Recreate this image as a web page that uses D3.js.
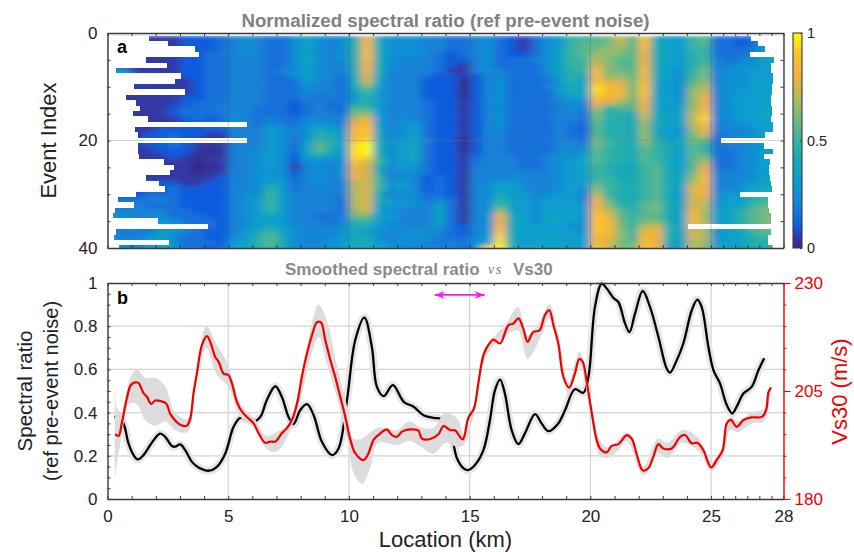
<!DOCTYPE html>
<html>
<head>
<meta charset="utf-8">
<script src="https://cdn.jsdelivr.net/npm/d3@7"></script>
<style>
  body { margin: 0; background: #fff; }
  text { font-family: "Liberation Sans", Arial, sans-serif; }
</style>
</head>
<body>
<div id="chart"></div>
<script>
//colormap stops
const cmapStops = [0, 0.05, 0.1, 0.2, 0.3, 0.4, 0.5, 0.6, 0.7, 0.8, 0.9, 1];
const cmapColors = ["#352a87", "#3037a5", "#0f5cdd", "#1481d6", "#0a9ccf", "#12a8b8", "#38b3a0", "#74ba7c", "#b6b95c", "#eeb23f", "#fdc02d", "#f9fb0e"];

//heat map: one string per event, one letter per 0.5 km, a=0 b=0.05 ... u=1
const levels = "abcdefghijklmnopqrstu";
const heatRows = [
  "bbbbbbcccd efeddfhfef iqifffeedd efdcbdfgkk lmplsihgkl ddcdhh",
  "bbbbbbcccd efeddfhfef jrifffeedd efdcbdfgkl lmolrihgkl ddcdhh",
  "bbbbbbcccd efeddfhfef jrifffeedd efdcbdfhkl mnnlrihgkk ddddhh",
  "bbbbbbccdd efeddfhfef jrifffedcd efdccdfhkl nnmlqihgjk dddehh",
  "bbbbbbccdd eeeddfhfef jrifeeedcc efdddefhkk omllqihgjk edefhh",
  "bbbbbbccdd eeeddfhfee jqifeeedcb efddddfhkk pnllqihgjl eeffgh",
  "gfbbbbccdd eeedefhfee jqifeeedbb efedddfhjk rmmlrigfkm effggh",
  "ggccbbccdd eeeddfgfed ipieeedccb cefdddehji rnnlrigfkm effggh",
  "bbccbbbcdd eeedddgfed ipheeeccca cefddddgjh rppmrigfln effggh",
  "bbbbbbbcdd eeedddfeed imheeeccca cefdddegih trqmshgfmo effggh",
  "bbbbbbbcdd eeedddfeed hkgeeeccca cefddddgih trrmshgfnp efgggh",
  "bbbbbbccdd eeedddeded hjgeeeccca cefddddfgg sqqmrhgfnq efgggh",
  "bbbbbbcddd eeeddcdedd hjgeeedccb cefddddefe qpnlqhgfnq efgghh",
  "bbbbbcddde eedddcdedd lkgeeedccb cefddddefe ojllqhghnr efgghh",
  "bbbbbcdddd fedddcdeed mngeeedccb cefddddeed mjjipiggos efgghh",
  "bbbbbbcdcd fededdeeee oqgefedccb cefddddeed mjjioihhot efgghh",
  "bbbbbbccdc fedfedfgfe qrgefgdccb cefddddedd ljjinihhor eefggh",
  "bbbbcccccc eeegfefihf rshefgdccb cefddddedc ljjinhgfnq eeefgh",
  "bbbccdccbb eeegfefjig rshefhdccb ceeddddedd ljjiniggmp deefgh",
  "bbbccdcbbb eeegfdgkjg stifghecca ceeddddeed mkjinjhhml deefgh",
  "bbbccdcbbb eeegfdgljg tuifghdcca ceeddddeee mkjimjihlk deeffh",
  "bbbbcccbab eefgfdhlig tuifhidccb ceeddddfff ljjilkihlk ddefgh",
  "bbbbbcbabb eefgfcghgf ttjfgidccb deeeddeffg lkjilkiglm ddefgg",
  "bbbbbbbabb eefgfcffef spkfghdccb deeeddefgh ljjilkiglo ddefgh",
  "bbbbbbbaab eefgfbefef qpifgfdccb eeeeddefgh kjiikliglq ddefgh",
  "bbbbbbbabb eefffcefef qpieffdccb eeeeeeefgh kjiiklihmq eeefgh",
  "bbbbbbbbbc eefgfdefef qpkefecdcb eeefeeefgh kkiiklihnr eeefhi",
  "bbccccbbcc eefhgdefee opkfgecdcb efggfeefgg lkjiklihor eefghi",
  "bbcccdcccc eefjgdeeee opkfgecdcb efhgfeefgf nkjiklihqq eefgii",
  "cccdddcccc effkgeeeee opieffddcb efiggefgge okjikligpq fggjjj",
  "dddeedcccc efgkgeeeed opigefdedb efjhgfggge qljikligpp fggjkl",
  "eeedddcccc efgkgeeeed opgggfehdb efkhgfgggf qnjjlmihpo fhgklm",
  "deeeeddccc efgkgeeeed npgfeeehdb efnhgfgggg roljlmihqo ghjlmm",
  "ffeeedddcc efghgeedde mmggeeehdb efqigfhhhf sqlkllihrn ghjlmn",
  "gfeegfdddc efghgeeede kkgfeeehdb efqihfhhgf srmkmmigro ghjlmn",
  "efeeggeddc efgigfeeef iigfefegdc efrighggff srmkopjhro ghjlmn",
  "ededhfedcc egikhfeeef ihfefffedc efshhggggf srnkqqjhpn fhhkll",
  "feeghfddcc fgjlifeffg iifefffedd fgtigghhgg rqnkrqjhpo fhhjkk",
  "fefgifdddc ghjlifeefg iigfffeded fgtighhhgg rpmlrqihon ghhjjj",
  "eedghfddcd ghjkifeffg iihfefefed ftuihihhgg spmmsqihon ghhijj"
];

//where each event's record starts and stops along the line (km)
const rowStart = [1.73, 2.5, 3.63, 3.8, 1.6, 2.46, 0.36, 3.04, 2.8, 1.09, 3.23, 0.76, 1.17, 1.34, 1.05, 1.67, 5.77, 1.12, 1.28, 5.77, 1.27, 1.27, 1.31, 2.35, 2.76, 2.6, 1.6, 2.14, 2.39, 1.17, 0.44, 1.1, 0.29, 0.21, 2.09, 4.17, 0.36, 0.28, 2.53, 0.46];
const rowEnd = [26.66, 26.93, 27.25, 26.62, 27.61, 27.5, 27.47, 27.55, 27.55, 27.53, 27.53, 27.5, 27.5, 27.53, 27.53, 27.47, 27.55, 27.55, 27.24, 25.4, 27.2, 27.55, 27.2, 27.44, 27.41, 27.41, 27.44, 27.47, 27.53, 26.2, 27.36, 27.36, 27.41, 27.47, 27.47, 24.06, 27.47, 27.36, 27.36, 27.5];

//panel b, spectral ratio [km, ratio]
const ratioLine = [[0.28, 0.38], [0.46, 0.375], [0.66, 0.35], [0.87, 0.257], [1.08, 0.203], [1.26, 0.183], [1.49, 0.203], [1.77, 0.25], [2.18, 0.303], [2.39, 0.288], [2.67, 0.245], [2.8, 0.242], [3.01, 0.253], [3.22, 0.226], [3.49, 0.173], [3.77, 0.146], [4.21, 0.131], [4.53, 0.149], [4.88, 0.211], [5.22, 0.334], [5.5, 0.376], [5.77, 0.365], [6.05, 0.357], [6.33, 0.38], [6.6, 0.458], [6.95, 0.522], [7.22, 0.473], [7.5, 0.38], [7.71, 0.347], [7.98, 0.411], [8.26, 0.439], [8.54, 0.388], [8.88, 0.265], [9.3, 0.203], [9.57, 0.234], [9.92, 0.458], [10.26, 0.735], [10.64, 0.84], [10.95, 0.704], [11.16, 0.519], [11.44, 0.476], [11.82, 0.527], [12.27, 0.45], [12.68, 0.427], [13.09, 0.388], [13.5, 0.376], [13.9, 0.368], [14.2, 0.319], [14.47, 0.19], [14.75, 0.142], [14.94, 0.134], [15.22, 0.157], [15.57, 0.226], [15.84, 0.365], [16.05, 0.504], [16.26, 0.553], [16.46, 0.488], [16.74, 0.319], [17.02, 0.254], [17.29, 0.304], [17.71, 0.393], [17.98, 0.35], [18.26, 0.314], [18.67, 0.35], [18.95, 0.411], [19.36, 0.508], [19.71, 0.492], [19.92, 0.565], [20.19, 0.889], [20.47, 0.997], [20.68, 0.974], [20.95, 0.932], [21.16, 0.912], [21.44, 0.812], [21.62, 0.773], [21.85, 0.858], [22.17, 0.963], [22.47, 0.889], [22.82, 0.75], [23.16, 0.604], [23.3, 0.585], [23.58, 0.643], [23.85, 0.72], [24.2, 0.874], [24.43, 0.923], [24.61, 0.889], [24.89, 0.704], [25.1, 0.596], [25.37, 0.535], [25.65, 0.435], [25.88, 0.396], [26.06, 0.427], [26.34, 0.488], [26.68, 0.519], [26.96, 0.596], [27.2, 0.652]];

//panel b, Vs30 [km, m/s]
const vs30Line = [[0.32, 195], [0.46, 194.6], [0.59, 197.5], [0.8, 203.3], [0.97, 206.4], [1.15, 207], [1.28, 206.9], [1.49, 204.5], [1.63, 203.7], [1.8, 202], [1.98, 202.8], [2.18, 202.7], [2.43, 202.1], [2.6, 199.7], [2.85, 197.9], [3.08, 197], [3.29, 197], [3.43, 198.7], [3.56, 204.4], [3.7, 209], [3.91, 215.6], [4.12, 217.7], [4.28, 216], [4.46, 212.9], [4.6, 211.8], [4.81, 209], [5.01, 208.7], [5.15, 206.8], [5.36, 202.5], [5.57, 200.2], [5.77, 199], [6.05, 197.5], [6.26, 195.2], [6.53, 193], [6.74, 193.3], [6.95, 193.3], [7.22, 195.2], [7.43, 196.4], [7.64, 198.3], [7.85, 202.1], [8.05, 208.3], [8.26, 213.7], [8.47, 217.9], [8.67, 220.9], [8.84, 220.9], [9.02, 216.8], [9.23, 212.2], [9.43, 208.3], [9.64, 203.7], [9.85, 199], [10.06, 193.7], [10.26, 190.6], [10.6, 189], [10.81, 190.6], [11.02, 193.7], [11.3, 195.2], [11.57, 196.1], [11.78, 194.8], [11.99, 194.4], [12.2, 195.6], [12.54, 196.1], [12.88, 195.8], [13.02, 194], [13.37, 193.9], [13.71, 195], [13.92, 196.9], [14.2, 195.9], [14.39, 195.9], [14.71, 193.8], [14.94, 198.7], [15.18, 201], [15.36, 206.8], [15.57, 213.3], [15.77, 215.6], [15.98, 216.9], [16.26, 216], [16.6, 220.2], [16.81, 220.6], [17.02, 221.8], [17.22, 219.5], [17.4, 216.4], [17.64, 218.7], [17.89, 219], [18.12, 222.6], [18.3, 223.7], [18.47, 220.2], [18.67, 216], [18.88, 208.3], [19.12, 205.8], [19.36, 209], [19.54, 212.4], [19.68, 211.8], [19.85, 207.1], [20.06, 199.8], [20.26, 193.7], [20.4, 191.7], [20.68, 190.8], [20.88, 192.3], [21.16, 192.7], [21.51, 194.8], [21.71, 194], [21.95, 189.8], [22.17, 186.6], [22.4, 187.1], [22.61, 189.8], [22.82, 192.7], [23.02, 191.7], [23.37, 191.7], [23.72, 194.4], [23.92, 194.8], [24.2, 192.9], [24.43, 193], [24.68, 191.3], [25, 187.3], [25.23, 189], [25.48, 191.3], [25.65, 197.5], [25.82, 198.3], [26.06, 196.7], [26.34, 198.3], [26.68, 198.9], [27.1, 199], [27.28, 200.6], [27.38, 204.8], [27.49, 205.8]];

//panel b, grey band round the Vs30 line [km, low, high] in m/s
const vs30Band = [[0.3, 184.5, 206], [0.4, 188.5, 201], [0.6, 195, 200], [0.9, 202, 207.5], [1.2, 202, 210], [1.6, 198, 208], [2, 197, 208], [2.4, 198, 206], [2.8, 196, 200], [3.3, 195.5, 198.5], [3.7, 207.5, 210.5], [4.1, 215, 220], [4.5, 209, 216], [5, 206, 211], [5.5, 199, 202], [6.1, 196.5, 198.5], [6.6, 191.5, 194.5], [7, 191, 195.5], [7.5, 195, 197.5], [8, 203.5, 207.5], [8.5, 214.5, 221.5], [8.75, 217.5, 225], [9.1, 211, 221], [9.5, 203.5, 211], [9.9, 194.5, 202], [10.2, 186, 194], [10.55, 183.5, 194], [10.9, 187.5, 195.5], [11.2, 193, 196.5], [12, 192.5, 196], [12.5, 193.5, 198], [13, 192, 196.5], [13.5, 190.5, 196.5], [14, 193, 200], [14.5, 192, 198.5], [14.75, 192.5, 195], [15.2, 200, 202], [15.6, 212, 214.5], [16, 215.5, 217.5], [16.5, 218, 220.5], [17, 219, 224.5], [17.4, 212.5, 218], [17.9, 217, 221], [18.3, 222, 225], [18.7, 214.5, 217.5], [19.1, 204, 207], [19.55, 211, 214], [20, 200, 203.5], [20.4, 190, 193.5], [20.7, 189.5, 192], [21.2, 191.5, 194], [21.5, 193.5, 195.5], [22.2, 185.5, 187.5], [22.8, 190.5, 194], [23.2, 189.5, 193], [23.8, 193, 196], [24.5, 191, 194], [25, 186.5, 188.5], [25.5, 190, 192.5], [25.8, 196, 199], [26.1, 195.5, 198], [26.7, 197.5, 200], [27.2, 198, 201], [27.45, 204, 208]];

//axis ticks and labels
const kmTicks = [0, 1, 2, 3, 4, 5, 6, 7, 8, 9, 10, 11, 12, 13, 14, 15, 16, 17, 18, 19, 20, 21, 22, 23, 24, 25, 25.5, 26, 26.5, 27, 27.5, 28];
const kmLabels = [0, 5, 10, 15, 20, 25, 28];
const kmGrid = [5, 10, 15, 20, 25];
const eventTicks = [0, 5, 10, 15, 20, 25, 30, 35, 40];
const eventLabels = [0, 20, 40];
const ratioTicks = [0, 0.05, 0.1, 0.15, 0.2, 0.25, 0.3, 0.35, 0.4, 0.45, 0.5, 0.55, 0.6, 0.65, 0.7, 0.75, 0.8, 0.85, 0.9, 0.95, 1];
const ratioLabels = [0, 0.2, 0.4, 0.6, 0.8, 1];
const vs30Ticks = [180, 185, 190, 195, 200, 205, 210, 215, 220, 225, 230];
const vs30Labels = [180, 205, 230];
const cbarLabels = [0, 0.5, 1];

const width = 854;
const height = 552;
const plotLeft = 107.5;
const plotRight = 783.5;
const axisColor = "#3a3a3a";

const svg = d3
  .select("#chart")
  .append("svg")
  .attr("width", width)
  .attr("height", height)
  .style("display", "block");

const xScale = d3.scaleLinear().domain([0, 28]).range([plotLeft, plotRight]);
const yEvent = d3.scaleLinear().domain([0, 40]).range([33, 248]);
const yRatio = d3.scaleLinear().domain([0, 1]).range([499, 283]);
const yVs30 = d3.scaleLinear().domain([180, 230]).range([499, 283]);
const cbarScale = d3.scaleLinear().domain([0, 1]).range([248, 33]);
const parula = d3.scaleLinear().domain(cmapStops).range(cmapColors).interpolate(d3.interpolateRgb);

const defs = svg.append("defs");
defs
  .append("clipPath")
  .attr("id", "clipA")
  .append("rect")
  .attr("x", plotLeft)
  .attr("y", yEvent(0))
  .attr("width", plotRight - plotLeft)
  .attr("height", yEvent(40) - yEvent(0));
const blur = defs
  .append("filter")
  .attr("id", "smear")
  .attr("filterUnits", "userSpaceOnUse")
  .attr("x", plotLeft - 20)
  .attr("y", 13)
  .attr("width", plotRight - plotLeft + 40)
  .attr("height", 255);
blur
  .append("feGaussianBlur")
  .attr("stdDeviation", "4.5 2.2")
  .attr("edgeMode", "duplicate");

/**************************************

        PANEL A, HEAT MAP

**************************************/

const cells = [];
heatRows.forEach((row, r) => {
  const letters = row.replace(/ /g, "");
  for (let c = 0; c < letters.length; c++) {
    cells.push({ event: r + 1, km: c * 0.5, val: levels.indexOf(letters[c]) / 20 });
  }
});

const panelA = svg.append("g").attr("clip-path", "url(#clipA)");
panelA
  .append("g")
  .attr("filter", "url(#smear)")
  .selectAll("rect")
  .data(cells)
  .enter()
  .append("rect")
  .attr("x", d => xScale(d.km))
  .attr("y", d => yEvent(d.event - 0.5))
  .attr("width", xScale(0.5) - xScale(0) + 0.5)
  .attr("height", yEvent(1) - yEvent(0) + 0.5)
  .attr("fill", d => parula(d.val));

//white where an event has no record
panelA
  .append("rect")
  .attr("x", plotLeft)
  .attr("y", yEvent(0))
  .attr("width", plotRight - plotLeft)
  .attr("height", yEvent(0.5) - yEvent(0))
  .attr("fill", "#fff");
panelA
  .selectAll("rect.gapLeft")
  .data(rowStart)
  .enter()
  .append("rect")
  .attr("class", "gapLeft")
  .attr("x", plotLeft)
  .attr("y", (d, i) => yEvent(i + 0.5))
  .attr("width", d => xScale(d) - plotLeft)
  .attr("height", yEvent(1) - yEvent(0))
  .attr("shape-rendering", "crispEdges")
  .attr("fill", "#fff");
panelA
  .selectAll("rect.gapRight")
  .data(rowEnd)
  .enter()
  .append("rect")
  .attr("class", "gapRight")
  .attr("x", d => xScale(d))
  .attr("y", (d, i) => yEvent(i + 0.5))
  .attr("width", d => plotRight - xScale(d))
  .attr("height", yEvent(1) - yEvent(0))
  .attr("shape-rendering", "crispEdges")
  .attr("fill", "#fff");

//faint grid on top of the map
panelA
  .selectAll("line.gridX")
  .data(kmGrid)
  .enter()
  .append("line")
  .attr("x1", d => xScale(d))
  .attr("x2", d => xScale(d))
  .attr("y1", yEvent(0))
  .attr("y2", yEvent(40))
  .attr("stroke", "#555")
  .attr("stroke-opacity", 0.3);
panelA
  .append("line")
  .attr("x1", plotLeft)
  .attr("x2", plotRight)
  .attr("y1", yEvent(20))
  .attr("y2", yEvent(20))
  .attr("stroke", "#777")
  .attr("stroke-opacity", 0.3)
  .attr("stroke-width", 1.2);

/**************************************

        PANEL B, LINES

**************************************/

const panelB = svg.append("g");

panelB
  .selectAll("line.gridX")
  .data(kmGrid)
  .enter()
  .append("line")
  .attr("x1", d => xScale(d))
  .attr("x2", d => xScale(d))
  .attr("y1", yRatio(0))
  .attr("y2", yRatio(1))
  .attr("stroke", "#d2d2d2")
  .attr("stroke-width", 1.2);
panelB
  .selectAll("line.gridY")
  .data(ratioLabels.slice(1, -1))
  .enter()
  .append("line")
  .attr("x1", plotLeft)
  .attr("x2", plotRight)
  .attr("y1", d => yRatio(d))
  .attr("y2", d => yRatio(d))
  .attr("stroke", "#d2d2d2")
  .attr("stroke-width", 1.2);

const ratioPath = d3
  .line()
  .x(d => xScale(d[0]))
  .y(d => yRatio(d[1]))
  .curve(d3.curveCatmullRom);

const vs30Path = d3
  .line()
  .x(d => xScale(d[0]))
  .y(d => yVs30(d[1]))
  .curve(d3.curveCatmullRom);

const vs30Area = d3
  .area()
  .x(d => xScale(d[0]))
  .y0(d => yVs30(d[1]))
  .y1(d => yVs30(d[2]))
  .curve(d3.curveCatmullRom);

panelB
  .append("path")
  .attr("d", ratioPath(ratioLine))
  .attr("fill", "none")
  .attr("stroke", "#e6e6e6")
  .attr("stroke-width", 8);
panelB
  .append("path")
  .attr("d", ratioPath(ratioLine))
  .attr("fill", "none")
  .attr("stroke", "#000")
  .attr("stroke-width", 2.3);
panelB
  .append("path")
  .attr("d", vs30Area(vs30Band))
  .attr("fill", "#dcdcdc");
panelB
  .append("path")
  .attr("d", vs30Path(vs30Line))
  .attr("fill", "none")
  .attr("stroke", "#f00000")
  .attr("stroke-width", 2.2)
  .attr("stroke-linejoin", "round");

//arrow over the marked stretch of the line
const arrowRange = [13.55, 15.62];
const arrowY = yRatio(0.945);
panelB
  .append("line")
  .attr("x1", xScale(arrowRange[0]))
  .attr("x2", xScale(arrowRange[1]))
  .attr("y1", arrowY)
  .attr("y2", arrowY)
  .attr("stroke", "#f51fe6")
  .attr("stroke-width", 1.6);
panelB
  .selectAll("path.head")
  .data([
    [arrowRange[0], 1],
    [arrowRange[1], -1]
  ])
  .enter()
  .append("path")
  .attr("class", "head")
  .attr("d", d => {
    const x = xScale(d[0]);
    return "M" + x + "," + arrowY + "L" + (x + d[1] * 10) + "," + (arrowY - 4) + "L" + (x + d[1] * 7) + "," + arrowY + "L" + (x + d[1] * 10) + "," + (arrowY + 4) + "Z";
  })
  .attr("fill", "#f51fe6");

/**************************************

        AXES

**************************************/

function styleAxis(g, color, size) {
  g.selectAll("path").attr("stroke", color).attr("stroke-width", 1.4);
  g.selectAll("line").attr("stroke", color).attr("stroke-width", 1);
  g.selectAll("text").attr("fill", color === axisColor ? "#222" : color).style("font-size", size + "px");
}

function kmAxis(y, labelled) {
  const axis = d3
    .axisBottom(xScale)
    .tickValues(kmTicks)
    .tickSizeInner(-3)
    .tickSizeOuter(0)
    .tickPadding(11)
    .tickFormat(d => (labelled && kmLabels.includes(d) ? d : ""));
  svg
    .append("g")
    .attr("transform", "translate(0," + y + ")")
    .call(axis)
    .call(styleAxis, axisColor, 17);
}

function topAxis(y) {
  const axis = d3.axisTop(xScale).tickValues(kmTicks).tickSizeInner(-3).tickSizeOuter(0).tickFormat("");
  svg
    .append("g")
    .attr("transform", "translate(0," + y + ")")
    .call(axis)
    .call(styleAxis, axisColor, 17);
}

kmAxis(yEvent(40), false);
topAxis(yEvent(0));
kmAxis(yRatio(0), true);
topAxis(yRatio(1));

//panel a, event axis left and right
svg
  .append("g")
  .attr("transform", "translate(" + plotLeft + ",0)")
  .call(
    d3
      .axisLeft(yEvent)
      .tickValues(eventTicks)
      .tickSizeInner(-3)
      .tickSizeOuter(0)
      .tickPadding(10)
      .tickFormat(d => (eventLabels.includes(d) ? d : ""))
  )
  .call(styleAxis, axisColor, 17);
svg
  .append("g")
  .attr("transform", "translate(" + plotRight + ",0)")
  .call(d3.axisRight(yEvent).tickValues(eventTicks).tickSizeInner(-3).tickSizeOuter(0).tickFormat(""))
  .call(styleAxis, axisColor, 17);

//panel b, ratio axis left
svg
  .append("g")
  .attr("transform", "translate(" + plotLeft + ",0)")
  .call(
    d3
      .axisLeft(yRatio)
      .tickValues(ratioTicks)
      .tickSizeInner(-3)
      .tickSizeOuter(0)
      .tickPadding(10)
      .tickFormat(d => (ratioLabels.includes(d) ? d : ""))
  )
  .call(styleAxis, axisColor, 17);

//panel b, Vs30 axis right
const vs30Axis = svg
  .append("g")
  .attr("transform", "translate(" + plotRight + ",0)")
  .call(
    d3
      .axisRight(yVs30)
      .tickValues(vs30Ticks)
      .tickSize(3)
      .tickSizeOuter(0)
      .tickPadding(9)
      .tickFormat(d => (vs30Labels.includes(d) ? d : ""))
  )
  .call(styleAxis, "#f00000", 17);
vs30Axis
  .selectAll(".tick line")
  .filter(d => vs30Labels.includes(d))
  .attr("x2", 7);
vs30Axis.selectAll(".tick text").attr("x", 11);

//colorbar
const cbarLeft = 793;
const cbarRight = 802;
const gradient = defs
  .append("linearGradient")
  .attr("id", "cbar")
  .attr("x1", 0)
  .attr("x2", 0)
  .attr("y1", 1)
  .attr("y2", 0);
gradient
  .selectAll("stop")
  .data(cmapStops)
  .enter()
  .append("stop")
  .attr("offset", d => d)
  .attr("stop-color", d => parula(d));
svg
  .append("rect")
  .attr("x", cbarLeft)
  .attr("y", cbarScale(1))
  .attr("width", cbarRight - cbarLeft)
  .attr("height", cbarScale(0) - cbarScale(1))
  .attr("fill", "url(#cbar)")
  .attr("stroke", axisColor)
  .attr("stroke-width", 1.1);
svg
  .append("g")
  .attr("transform", "translate(" + cbarRight + ",0)")
  .call(d3.axisRight(cbarScale).tickValues(cbarLabels).tickSizeInner(-2).tickSizeOuter(0).tickPadding(5).tickFormat(d3.format("")))
  .call(g => g.select("path").remove())
  .call(styleAxis, axisColor, 14.5);

/**************************************

        TITLES AND LABELS

**************************************/

svg
  .append("text")
  .attr("x", 445.5)
  .attr("y", 26.5)
  .attr("text-anchor", "middle")
  .attr("fill", "#808080")
  .style("font-size", "18.7px")
  .style("font-weight", "bold")
  .text("Normalized spectral ratio (ref pre-event noise)");

//panel b title is three pieces, the middle word is set in a math font
const titleGrey = "#8a8a8a";
svg.append("text").attr("x", 285).attr("y", 274.5).attr("fill", titleGrey).style("font-size", "17px").style("font-weight", "bold").text("Smoothed spectral ratio");
svg
  .append("text")
  .attr("x", 488)
  .attr("y", 273.5)
  .attr("fill", "#777")
  .style("font-family", "'Liberation Serif', serif")
  .style("font-style", "italic")
  .style("font-size", "14px")
  .style("letter-spacing", "1.5px")
  .text("vs");
svg.append("text").attr("x", 513).attr("y", 274.5).attr("fill", titleGrey).style("font-size", "17px").style("font-weight", "bold").text("Vs30");

svg.append("text").attr("x", 117).attr("y", 53).style("font-size", "18px").style("font-weight", "bold").attr("fill", "#000").text("a");
svg.append("text").attr("x", 117).attr("y", 304).style("font-size", "18px").style("font-weight", "bold").attr("fill", "#000").text("b");

svg
  .append("text")
  .attr("transform", "translate(56,140.5) rotate(-90)")
  .attr("text-anchor", "middle")
  .attr("fill", "#222")
  .style("font-size", "22px")
  .text("Event Index");

svg
  .append("text")
  .attr("transform", "translate(32,391) rotate(-90)")
  .attr("text-anchor", "middle")
  .attr("fill", "#222")
  .style("font-size", "20.5px")
  .text("Spectral ratio");
svg
  .append("text")
  .attr("transform", "translate(58,391) rotate(-90)")
  .attr("text-anchor", "middle")
  .attr("fill", "#222")
  .style("font-size", "20px")
  .text("(ref pre-event noise)");

svg
  .append("text")
  .attr("x", 445.5)
  .attr("y", 547)
  .attr("text-anchor", "middle")
  .attr("fill", "#222")
  .style("font-size", "22px")
  .text("Location (km)");

svg
  .append("text")
  .attr("transform", "translate(847,391.5) rotate(-90)")
  .attr("text-anchor", "middle")
  .attr("fill", "#f00000")
  .style("font-size", "22px")
  .text("Vs30 (m/s)");
</script>
</body>
</html>
